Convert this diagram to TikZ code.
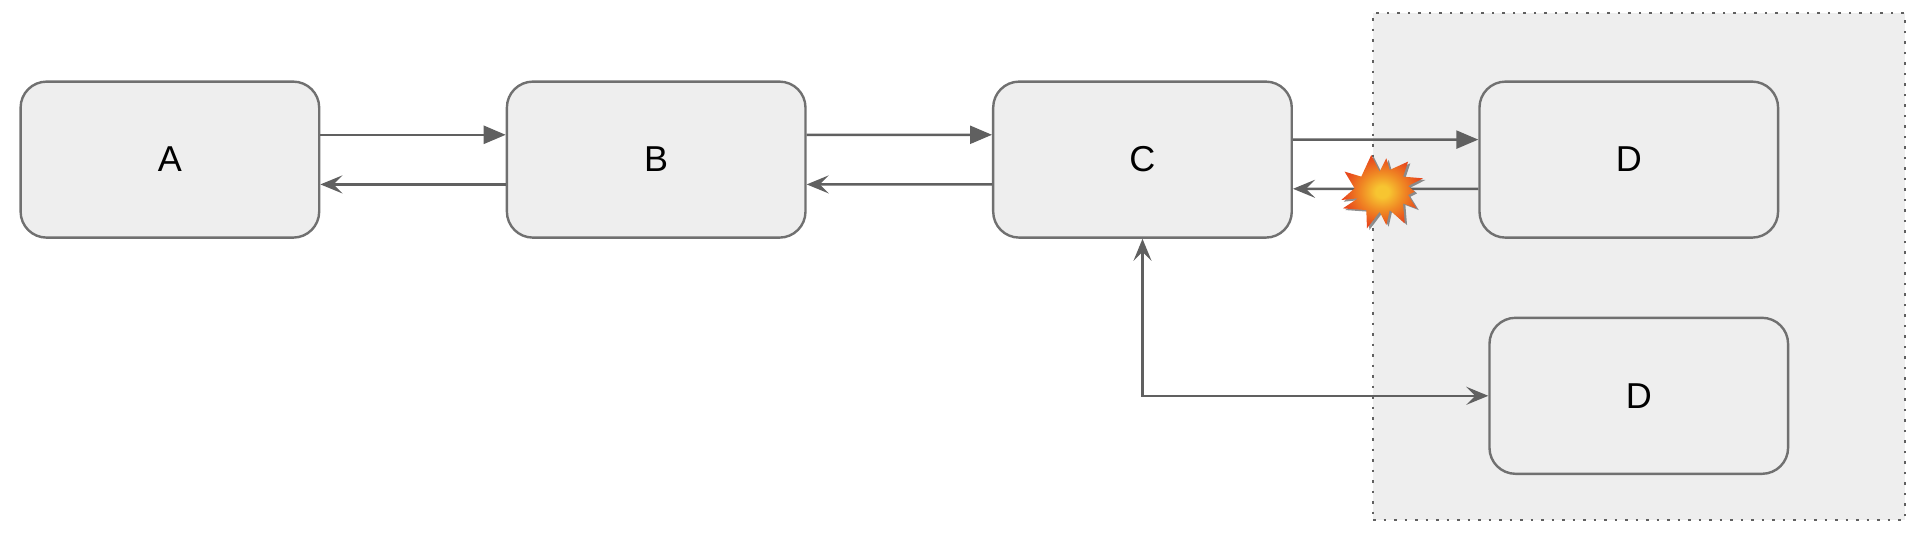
\documentclass[tikz,border=0pt]{standalone}
\usepackage{fontspec}
\setmainfont{Liberation Sans}
\usetikzlibrary{matrix,arrows.meta}
\definecolor{boxfill}{HTML}{EEEEEE}
\definecolor{boxline}{HTML}{707070}
\definecolor{arrowline}{HTML}{606060}
\definecolor{blastin}{HTML}{F7C531}
\definecolor{blastmid}{HTML}{F08A24}
\definecolor{blastout}{HTML}{E8481C}
\pgfdeclareradialshading{blast}{\pgfpoint{0bp}{0bp}}{color(0bp)=(blastin); color(4bp)=(blastin); color(13bp)=(blastmid); color(24bp)=(blastout); color(50bp)=(blastout)}
\tikzset{
  boxnode/.style={draw=boxline, fill=boxfill, line width=1.2pt, rounded corners=13pt,
    minimum width=149.3pt, minimum height=78pt, inner sep=0pt, font=\fontsize{18}{22}\selectfont},
  there/.style={arrowline, line width=1.2pt, -{Triangle[length=11pt,width=9pt]}},
  back/.style={arrowline, line width=1.2pt, -{Stealth[length=11pt,width=9pt,inset=4.5pt]}},
  both/.style={arrowline, line width=1.2pt, {Stealth[length=11pt,width=9pt,inset=4.5pt]}-{Stealth[length=11pt,width=9pt,inset=4.5pt]}},
}
\newcommand{\blastpath}{(-35,-105) -- (-10,-55) -- (10,-95) -- (20,-60) -- (75,-85) -- (60,-40) -- (120,-35) -- (75,-12) -- (95,5) -- (75,15) -- (100,55) -- (60,40) -- (65,100) -- (20,60) -- (10,105) -- (-10,65) -- (-48,115) -- (-50,60) -- (-120,55) -- (-75,25) -- (-125,30) -- (-85,-5) -- (-115,-55) -- (-65,-40) -- cycle}
\begin{document}
\begin{tikzpicture}[x=0.5pt,y=-0.5pt]
  \useasboundingbox (0,0) rectangle (1924,540);
  % shaded zone behind the right column
  \node (zone) [anchor=north west, draw=arrowline, fill=boxfill, line width=1.15pt,
    dash pattern=on 1.2pt off 4.05pt, minimum width=265.75pt, minimum height=253.5pt,
    inner sep=0pt] at (1372,12) {};
  \matrix (m) [matrix of nodes, nodes={boxnode}, row sep=38.9pt, column sep=92.65pt,
    inner sep=0pt, anchor=north west] at (19,80)
  {
A & B & C & D \\
  &   &   & |[xshift=5pt]| D \\
};
  \path[there]
  ([yshift=12.4pt]m-1-1.east) edge ([yshift=12.4pt]m-1-2.west)
  ([yshift=12.4pt]m-1-2.east) edge ([yshift=12.4pt]m-1-3.west)
  ([yshift=10pt]m-1-3.east) edge ([yshift=10pt]m-1-4.west)
;
  \path[back]
  ([yshift=-12.4pt]m-1-2.west) edge ([yshift=-12.4pt]m-1-1.east)
  ([yshift=-12.4pt]m-1-3.west) edge ([yshift=-12.4pt]m-1-2.east)
  ([yshift=-14.6pt]m-1-4.west) edge ([yshift=-14.6pt]m-1-3.east)
;
  \draw[both] (m-1-3.south) |- (m-2-4.west);
  % the blast over the broken link
  \begin{scope}[shift={(1383,190)}, x=0.167pt, y=-0.167pt]
    \fill[arrowline, opacity=0.7, shift={(7,5)}] \blastpath;
    \shade[shading=blast] \blastpath;
  \end{scope}
\end{tikzpicture}
\end{document}
